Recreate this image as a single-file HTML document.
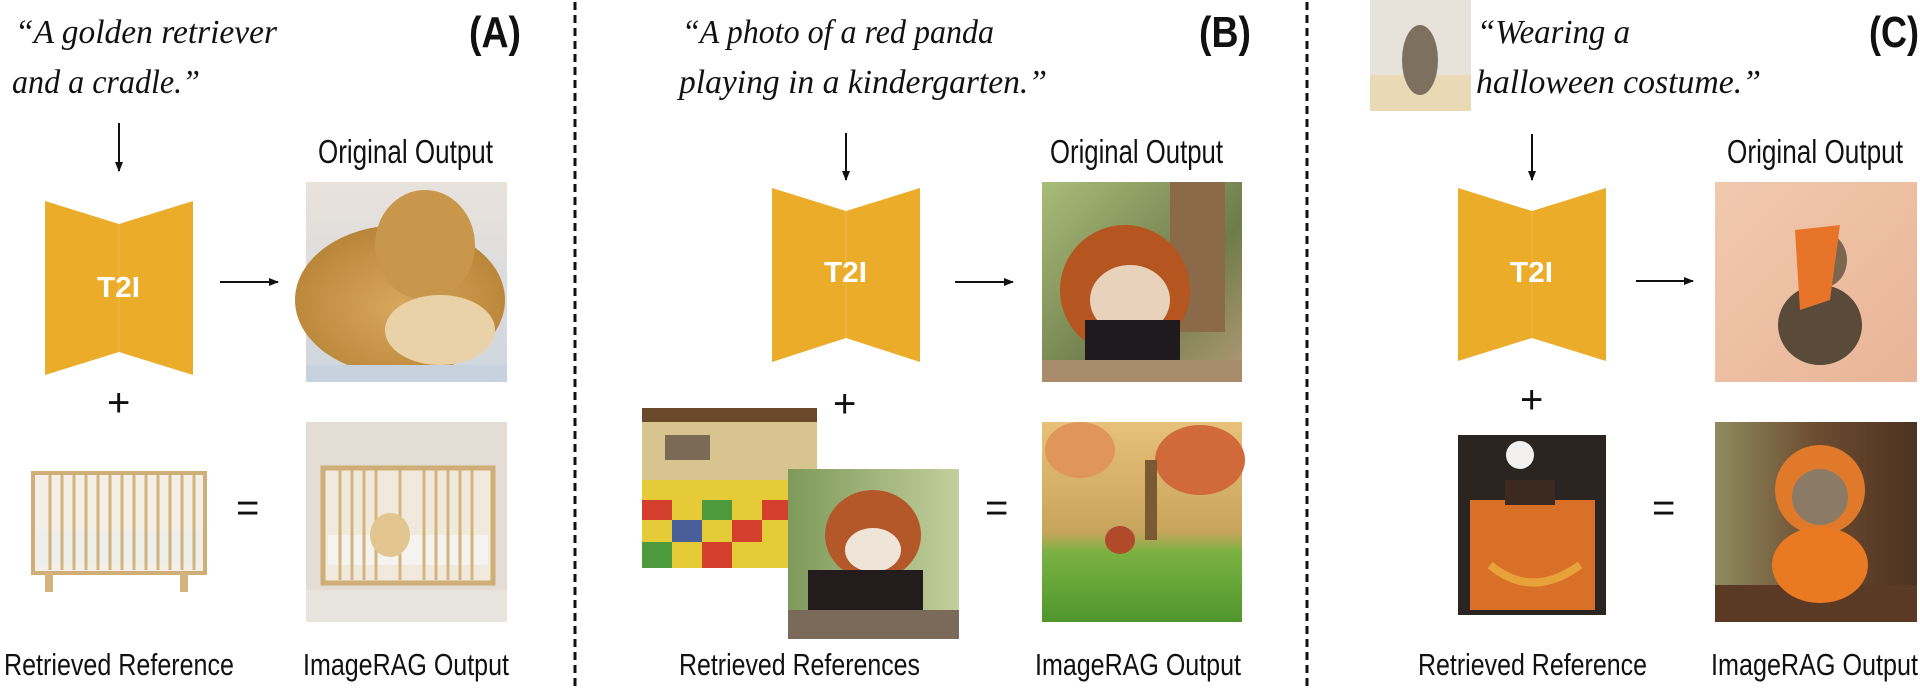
<!DOCTYPE html>
<html><head><meta charset="utf-8"><style>
html,body{margin:0;padding:0;background:#fff;}
svg{display:block;}
.q{font-family:"Liberation Serif",serif;font-style:italic;font-size:34px;fill:#111;}
.l{font-family:"Liberation Sans",sans-serif;font-size:31px;fill:#111;}
.o{font-family:"Liberation Sans",sans-serif;font-size:33px;fill:#111;}
.p{font-family:"Liberation Sans",sans-serif;font-weight:bold;font-size:44px;fill:#111;}
.t{font-family:"Liberation Sans",sans-serif;font-weight:bold;font-size:29px;fill:#fff;}
.s{font-family:"Liberation Sans",sans-serif;font-size:40px;fill:#111;}
</style></head><body>
<svg width="1920" height="689" viewBox="0 0 1920 689" xmlns="http://www.w3.org/2000/svg">
<defs>
<marker id="ah" markerWidth="10" markerHeight="10" refX="9" refY="5" orient="auto" markerUnits="userSpaceOnUse"><path d="M0,1 L10,5 L0,9 Z" fill="#111"/></marker>
<linearGradient id="dogbg" x1="0" y1="0" x2="0" y2="1"><stop offset="0" stop-color="#e8e2dc"/><stop offset="1" stop-color="#cfd6de"/></linearGradient>
<radialGradient id="dog" cx="0.5" cy="0.55" r="0.55"><stop offset="0" stop-color="#d9a85e"/><stop offset="1" stop-color="#b98538"/></radialGradient>
<linearGradient id="pandabg" x1="0" y1="0" x2="1" y2="1"><stop offset="0" stop-color="#a9bd7a"/><stop offset="0.6" stop-color="#6f7b4b"/><stop offset="1" stop-color="#b39a78"/></linearGradient>
<linearGradient id="catbg" x1="0" y1="0" x2="1" y2="1"><stop offset="0" stop-color="#f1c9ae"/><stop offset="1" stop-color="#e9b497"/></linearGradient>
<linearGradient id="cat2bg" x1="0" y1="0" x2="1" y2="0"><stop offset="0" stop-color="#8f8a5f"/><stop offset="0.5" stop-color="#6d4c30"/><stop offset="1" stop-color="#4d3220"/></linearGradient>
<linearGradient id="gardenbg" x1="0" y1="0" x2="0" y2="1"><stop offset="0" stop-color="#e8c17a"/><stop offset="0.55" stop-color="#c7a45c"/><stop offset="0.65" stop-color="#7bb242"/><stop offset="1" stop-color="#4f962d"/></linearGradient>
<linearGradient id="refpanda" x1="0" y1="0" x2="1" y2="0"><stop offset="0" stop-color="#7d9a5a"/><stop offset="1" stop-color="#c3cf9c"/></linearGradient>
</defs>

<!-- dividers -->
<line x1="575" y1="2" x2="575" y2="689" stroke="#111" stroke-width="3" stroke-dasharray="8 5"/>
<line x1="1307" y1="2" x2="1307" y2="689" stroke="#111" stroke-width="3" stroke-dasharray="8 5"/>

<!-- ===== Panel A ===== -->
<text class="q" x="15" y="43" textLength="262" lengthAdjust="spacingAndGlyphs">“A golden retriever</text>
<text class="q" x="12" y="93" textLength="188" lengthAdjust="spacingAndGlyphs">and a cradle.”</text>
<text class="p" x="469" y="47" textLength="52" lengthAdjust="spacingAndGlyphs">(A)</text>
<line x1="119" y1="123" x2="119" y2="171" stroke="#111" stroke-width="2" marker-end="url(#ah)"/>
<polygon points="45,201 119,224 193,201 193,375 119,352 45,375" fill="#EBAC2A"/>
<line x1="119" y1="224" x2="119" y2="352" stroke="#efb94a" stroke-width="1"/>
<text class="t" x="97" y="297" textLength="43" lengthAdjust="spacingAndGlyphs">T2I</text>
<line x1="220" y1="282" x2="278" y2="282" stroke="#111" stroke-width="2" marker-end="url(#ah)"/>
<text class="o" x="318" y="163" textLength="175" lengthAdjust="spacingAndGlyphs">Original Output</text>
<!-- dog image -->
<rect x="306" y="182" width="201" height="200" fill="url(#dogbg)"/>
<ellipse cx="400" cy="300" rx="105" ry="75" fill="url(#dog)"/>
<ellipse cx="425" cy="245" rx="50" ry="55" fill="#c9974c"/>
<ellipse cx="440" cy="330" rx="55" ry="35" fill="#ead2a8"/>
<rect x="306" y="365" width="201" height="17" fill="#c8d2de"/>
<!-- plus -->
<text class="s" x="107" y="416">+</text>
<!-- crib -->
<g stroke="#cfae78" stroke-width="4" fill="none">
<rect x="33" y="473" width="172" height="100" fill="#f3efe6"/>
</g>
<rect x="38" y="530" width="162" height="35" fill="#eeeeea"/>
<g stroke="#d4b47e" stroke-width="3">
<line x1="50" y1="475" x2="50" y2="570"/><line x1="62" y1="475" x2="62" y2="570"/><line x1="74" y1="475" x2="74" y2="570"/><line x1="86" y1="475" x2="86" y2="570"/><line x1="98" y1="475" x2="98" y2="570"/><line x1="110" y1="475" x2="110" y2="570"/><line x1="122" y1="475" x2="122" y2="570"/><line x1="134" y1="475" x2="134" y2="570"/><line x1="146" y1="475" x2="146" y2="570"/><line x1="158" y1="475" x2="158" y2="570"/><line x1="170" y1="475" x2="170" y2="570"/><line x1="182" y1="475" x2="182" y2="570"/><line x1="194" y1="475" x2="194" y2="570"/>
</g>
<rect x="45" y="572" width="8" height="20" fill="#d4b47e"/><rect x="180" y="572" width="8" height="20" fill="#d4b47e"/>
<text class="s" x="236" y="521">=</text>
<!-- imagerag A -->
<rect x="306" y="422" width="201" height="200" fill="#e3ddd5"/>
<rect x="306" y="590" width="201" height="32" fill="#e8e4de"/>
<rect x="323" y="468" width="170" height="115" fill="#f1eadc" stroke="#cfae78" stroke-width="5"/>
<rect x="328" y="535" width="160" height="30" fill="#f5f3ef"/>
<g stroke="#d4b47e" stroke-width="3">
<line x1="340" y1="470" x2="340" y2="580"/><line x1="352" y1="470" x2="352" y2="580"/><line x1="364" y1="470" x2="364" y2="580"/><line x1="376" y1="470" x2="376" y2="580"/><line x1="400" y1="470" x2="400" y2="580"/><line x1="424" y1="470" x2="424" y2="580"/><line x1="436" y1="470" x2="436" y2="580"/><line x1="448" y1="470" x2="448" y2="580"/><line x1="460" y1="470" x2="460" y2="580"/><line x1="472" y1="470" x2="472" y2="580"/>
</g>
<ellipse cx="390" cy="535" rx="20" ry="22" fill="#e2c58f"/>
<text class="l" x="4" y="675" textLength="230" lengthAdjust="spacingAndGlyphs">Retrieved Reference</text>
<text class="l" x="303" y="675" textLength="206" lengthAdjust="spacingAndGlyphs">ImageRAG Output</text>

<!-- ===== Panel B ===== -->
<text class="q" x="682" y="43" textLength="312" lengthAdjust="spacingAndGlyphs">“A photo of a red panda</text>
<text class="q" x="679" y="93" textLength="368" lengthAdjust="spacingAndGlyphs">playing in a kindergarten.”</text>
<text class="p" x="1199" y="47" textLength="52" lengthAdjust="spacingAndGlyphs">(B)</text>
<line x1="846" y1="133" x2="846" y2="180" stroke="#111" stroke-width="2" marker-end="url(#ah)"/>
<polygon points="772,188 846,211 920,188 920,362 846,338 772,362" fill="#EBAC2A"/>
<line x1="846" y1="211" x2="846" y2="338" stroke="#efb94a" stroke-width="1"/>
<text class="t" x="824" y="282" textLength="43" lengthAdjust="spacingAndGlyphs">T2I</text>
<line x1="955" y1="282" x2="1013" y2="282" stroke="#111" stroke-width="2" marker-end="url(#ah)"/>
<text class="o" x="1050" y="163" textLength="173" lengthAdjust="spacingAndGlyphs">Original Output</text>
<rect x="1042" y="182" width="200" height="200" fill="url(#pandabg)"/>
<rect x="1170" y="182" width="55" height="150" fill="#8a6a48"/>
<ellipse cx="1125" cy="290" rx="65" ry="65" fill="#b5551f"/>
<ellipse cx="1130" cy="300" rx="40" ry="35" fill="#e9d2bc"/>
<rect x="1085" y="320" width="95" height="45" fill="#1e1a1e"/>
<rect x="1042" y="360" width="200" height="22" fill="#a98c6c"/>
<text class="s" x="833" y="417">+</text>
<!-- kindergarten -->
<rect x="642" y="408" width="175" height="160" fill="#d8c48e"/>
<rect x="642" y="408" width="175" height="14" fill="#6a4a2a"/>
<rect x="665" y="435" width="45" height="25" fill="#7b6a55"/>
<rect x="642" y="480" width="175" height="88" fill="#e5cb37"/>
<rect x="642" y="500" width="30" height="20" fill="#d5402e"/><rect x="702" y="500" width="30" height="20" fill="#4c9a3c"/><rect x="762" y="500" width="30" height="20" fill="#d5402e"/>
<rect x="672" y="520" width="30" height="22" fill="#4a5f9a"/><rect x="732" y="520" width="30" height="22" fill="#d5402e"/><rect x="792" y="520" width="25" height="22" fill="#4c9a3c"/>
<rect x="642" y="542" width="30" height="26" fill="#4c9a3c"/><rect x="702" y="542" width="30" height="26" fill="#d5402e"/>
<!-- ref panda -->
<rect x="788" y="469" width="171" height="170" fill="url(#refpanda)"/>
<ellipse cx="873" cy="535" rx="48" ry="45" fill="#b4582a"/>
<ellipse cx="873" cy="550" rx="28" ry="22" fill="#efe4d8"/>
<rect x="808" y="570" width="115" height="45" fill="#231b1c"/>
<rect x="788" y="610" width="171" height="29" fill="#7a6a5a"/>
<text class="s" x="985" y="521">=</text>
<!-- garden -->
<rect x="1042" y="422" width="200" height="200" fill="url(#gardenbg)"/>
<ellipse cx="1200" cy="460" rx="45" ry="35" fill="#d06a3a"/>
<ellipse cx="1080" cy="450" rx="35" ry="28" fill="#e0955a"/>
<rect x="1145" y="460" width="12" height="80" fill="#7a5a34"/>
<ellipse cx="1120" cy="540" rx="15" ry="14" fill="#b04a2a"/>
<text class="l" x="679" y="675" textLength="241" lengthAdjust="spacingAndGlyphs">Retrieved References</text>
<text class="l" x="1035" y="675" textLength="206" lengthAdjust="spacingAndGlyphs">ImageRAG Output</text>

<!-- ===== Panel C ===== -->
<rect x="1370" y="0" width="101" height="111" fill="#e7e2da"/>
<rect x="1370" y="75" width="101" height="36" fill="#e9d9b4"/>
<ellipse cx="1420" cy="60" rx="18" ry="35" fill="#7e705e"/>
<text class="q" x="1477" y="43" textLength="153" lengthAdjust="spacingAndGlyphs">“Wearing a</text>
<text class="q" x="1476" y="93" textLength="285" lengthAdjust="spacingAndGlyphs">halloween costume.”</text>
<text class="p" x="1869" y="47" textLength="50" lengthAdjust="spacingAndGlyphs">(C)</text>
<line x1="1532" y1="134" x2="1532" y2="180" stroke="#111" stroke-width="2" marker-end="url(#ah)"/>
<polygon points="1458,188 1532,211 1606,188 1606,361 1532,338 1458,361" fill="#EBAC2A"/>
<line x1="1532" y1="211" x2="1532" y2="338" stroke="#efb94a" stroke-width="1"/>
<text class="t" x="1510" y="282" textLength="43" lengthAdjust="spacingAndGlyphs">T2I</text>
<line x1="1636" y1="281" x2="1693" y2="281" stroke="#111" stroke-width="2" marker-end="url(#ah)"/>
<text class="o" x="1727" y="163" textLength="176" lengthAdjust="spacingAndGlyphs">Original Output</text>
<rect x="1715" y="182" width="202" height="200" fill="url(#catbg)"/>
<ellipse cx="1820" cy="325" rx="42" ry="40" fill="#5a4a3a"/>
<ellipse cx="1822" cy="260" rx="25" ry="28" fill="#7c6650"/>
<path d="M1795,230 L1840,225 L1830,300 L1800,310 Z" fill="#e8742a"/>
<text class="s" x="1520" y="413">+</text>
<!-- pumpkin ref -->
<rect x="1458" y="435" width="148" height="180" fill="#2a2520"/>
<rect x="1470" y="500" width="125" height="110" fill="#d87028"/>
<rect x="1505" y="480" width="50" height="25" fill="#3c2a20"/>
<ellipse cx="1520" cy="455" rx="14" ry="14" fill="#f0f0f0"/>
<path d="M1490,565 Q1532,600 1580,565" stroke="#e8a23a" stroke-width="8" fill="none"/>
<text class="s" x="1652" y="521">=</text>
<!-- cat imagerag -->
<rect x="1715" y="422" width="202" height="200" fill="url(#cat2bg)"/>
<rect x="1715" y="585" width="202" height="37" fill="#5a3a24"/>
<ellipse cx="1820" cy="490" rx="45" ry="45" fill="#e07a2a"/>
<ellipse cx="1820" cy="497" rx="28" ry="28" fill="#8a7a66"/>
<ellipse cx="1820" cy="565" rx="48" ry="38" fill="#ea7a22"/>
<text class="l" x="1418" y="675" textLength="229" lengthAdjust="spacingAndGlyphs">Retrieved Reference</text>
<text class="l" x="1711" y="675" textLength="207" lengthAdjust="spacingAndGlyphs">ImageRAG Output</text>
</svg>
</body></html>
